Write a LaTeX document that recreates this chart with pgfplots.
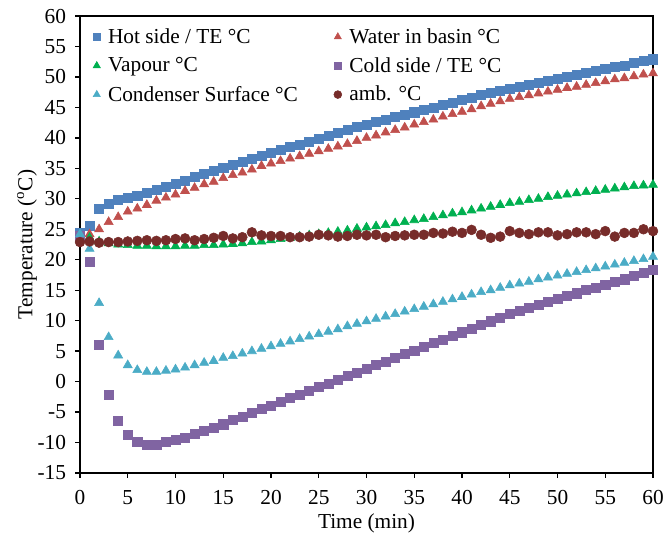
\documentclass[border=0pt]{standalone}
\usepackage{pgfplots}
\pgfplotsset{compat=1.18}
\usepackage{pgfplotstable}
\usepackage{fontspec}
\setmainfont{Liberation Serif}

\definecolor{hot}{HTML}{4F81BD}
\definecolor{water}{HTML}{C0504D}
\definecolor{vap}{HTML}{00B050}
\definecolor{cold}{HTML}{8064A2}
\definecolor{cond}{HTML}{4BACC6}
\definecolor{amb}{HTML}{772C2A}

% time (min) and the six temperatures
\pgfplotstableread{
t  hot  water vap  cold  cond amb
0  24.4 23.5 23.4 24.0  24.2 22.9
1  25.5 24.2 23.6 19.6  21.8 23.0
2  28.4 25.0 23.0 6.0   12.9 22.8
3  29.2 26.2 22.7 -2.1  7.3  22.9
4  29.8 27.0 22.5 -6.5  4.3  22.9
5  30.2 27.9 22.4 -8.8  2.7  23.0
6  30.5 28.4 22.3 -9.9  1.9  23.1
7  31.0 29.0 22.3 -10.3 1.6  23.2
8  31.5 29.7 22.2 -10.3 1.6  23.1
9  32.0 30.2 22.2 -9.9  1.8  23.2
10 32.5 30.7 22.2 -9.6  2.0  23.4
11 33.0 31.3 22.3 -9.2  2.3  23.5
12 33.6 31.8 22.3 -8.6  2.7  23.2
13 34.1 32.4 22.4 -8.1  3.1  23.4
14 34.6 32.8 22.4 -7.5  3.4  23.6
15 35.1 33.4 22.5 -7.0  3.9  23.9
16 35.6 33.9 22.6 -6.3  4.2  23.5
17 36.1 34.3 22.7 -5.7  4.6  23.7
18 36.6 34.8 22.9 -5.1  5.0  24.5
19 37.1 35.4 23.0 -4.5  5.4  24.0
20 37.5 35.8 23.2 -3.9  5.8  23.9
21 38.0 36.2 23.4 -3.3  6.2  23.9
22 38.5 36.6 23.6 -2.7  6.6  23.7
23 38.9 37.0 23.8 -2.1  7.0  23.7
24 39.4 37.4 24.0 -1.5  7.4  23.8
25 39.9 37.8 24.2 -0.9  7.8  24.1
26 40.3 38.2 24.4 -0.3  8.2  24.0
27 40.8 38.6 24.6 0.3   8.6  23.8
28 41.3 39.0 24.8 0.9   9.1  23.9
29 41.8 39.5 25.1 1.5   9.5  24.1
30 42.2 40.0 25.3 2.1   9.9  24.0
31 42.6 40.4 25.5 2.7   10.3 24.1
32 43.0 40.9 25.7 3.3   10.7 23.7
33 43.4 41.3 26.0 3.9   11.1 23.9
34 43.8 41.7 26.2 4.5   11.5 24.0
35 44.2 42.2 26.5 5.1   11.9 24.1
36 44.6 42.6 26.7 5.7   12.3 24.1
37 45.0 43.0 27.0 6.3   12.7 24.4
38 45.4 43.5 27.3 6.9   13.1 24.3
39 45.8 43.9 27.6 7.5   13.5 24.6
40 46.2 44.3 27.8 8.1   13.9 24.4
41 46.6 44.7 28.1 8.7   14.3 24.9
42 47.0 45.2 28.4 9.3   14.7 24.1
43 47.4 45.6 28.7 9.9   15.0 23.6
44 47.7 46.0 29.0 10.5  15.4 23.8
45 48.1 46.4 29.3 11.1  15.8 24.7
46 48.4 46.7 29.5 11.6  16.1 24.4
47 48.7 47.0 29.8 12.1  16.4 24.2
48 49.1 47.3 30.0 12.6  16.8 24.5
49 49.4 47.6 30.3 13.1  17.1 24.5
50 49.7 47.9 30.5 13.6  17.4 24.0
51 50.0 48.2 30.7 14.1  17.7 24.2
52 50.4 48.4 30.9 14.5  18.0 24.5
53 50.7 48.7 31.1 15.0  18.3 24.5
54 51.0 49.0 31.3 15.4  18.6 24.2
55 51.3 49.3 31.5 15.9  18.9 24.7
56 51.6 49.6 31.7 16.4  19.2 23.8
57 51.9 49.8 31.9 16.8  19.5 24.4
58 52.3 50.1 32.1 17.3  19.8 24.4
59 52.6 50.4 32.2 17.8  20.1 25.0
60 52.9 50.6 32.3 18.3  20.5 24.7
}\data

\begin{document}
\begin{tikzpicture}[x=0.75pt,y=0.75pt]
\begin{axis}[
  at={(0,0)}, anchor=south west,
  scale only axis,
  width=429.75pt, height=342.75pt,
  xmin=0, xmax=60, ymin=-15, ymax=60,
  xtick distance=5, ytick distance=5,
  tick align=outside,
  xtick pos=left, ytick pos=left,
  major tick length=3.5pt,
  axis line style={line width=1.2pt},
  every tick/.style={black, line width=1pt},
  /pgf/number format/assume math mode=true,
  ticklabel style={font=\fontsize{16}{18}\selectfont},
  xticklabel style={yshift=-6pt},
  yticklabel style={xshift=-3.5pt},
  xlabel={Time (min)},
  ylabel={Temperature (\textsuperscript{o}C)},
  every axis x label/.style={at={(axis description cs:0.5,0)}, yshift=-37.5pt,
    anchor=center, font=\fontsize{16}{18}\selectfont},
  every axis y label/.style={at={(axis description cs:0,0.5)}, xshift=-39.75pt,
    anchor=center, rotate=90, font=\fontsize{16}{18}\selectfont},
  legend columns=2,
  legend cell align=left,
  legend image post style={scale=0.8},
  legend style={at={(0.0155,0.985)}, anchor=north west, draw=none, fill=none,
    font=\fontsize{16}{18}\selectfont, row sep=5pt,
    /tikz/every odd column/.append style={column sep=3.75pt},
    /tikz/every even column/.append style={column sep=25pt}},
  only marks,
]
\addplot[mark=square*, mark size=3.4pt, color=hot] table[x=t, y=hot] {\data};
\addlegendentry{Hot side / TE °C}
\addplot[mark=triangle*, mark size=3.9pt, color=water] table[x=t, y=water] {\data};
\addlegendentry{Water in basin °C}
\addplot[mark=triangle*, mark size=3.9pt, color=vap] table[x=t, y=vap] {\data};
\addlegendentry{Vapour °C}
\addplot[mark=square*, mark size=3.4pt, color=cold] table[x=t, y=cold] {\data};
\addlegendentry{Cold side / TE °C}
\addplot[mark=triangle*, mark size=3.9pt, color=cond] table[x=t, y=cond] {\data};
\addlegendentry{Condenser Surface °C}
\addplot[mark=*, mark size=3.7pt, color=amb] table[x=t, y=amb] {\data};
\addlegendentry{amb. °C}
\end{axis}
\pgfresetboundingbox
\path[use as bounding box] (-80,-67) rectangle (584,473);
\end{tikzpicture}
\end{document}
